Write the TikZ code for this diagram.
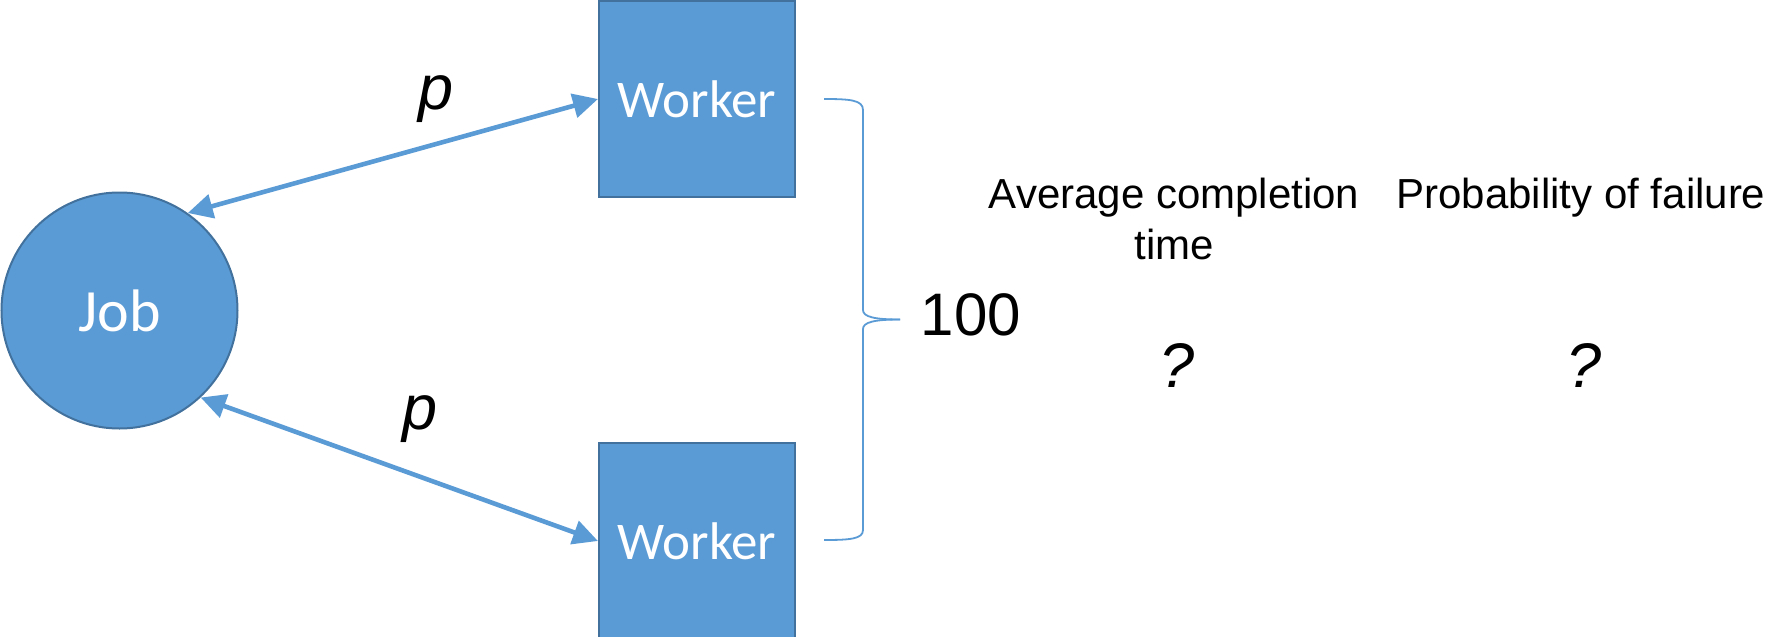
\documentclass[tikz,border=0pt]{standalone}
\usepackage{fontspec}
\setmainfont{Liberation Sans}
\newfontfamily\carlitofont{Carlito}
\usetikzlibrary{arrows.meta}
\definecolor{fillblue}{RGB}{91,155,213}
\definecolor{edgeblue}{RGB}{65,113,156}
\begin{document}
\begin{tikzpicture}[x=1pt,y=-1pt,
  shapebox/.style={draw=edgeblue, line width=2pt, fill=fillblue, text=white,
    font=\carlitofont\fontsize{53}{60}\selectfont, inner sep=0pt},
  arr/.style={draw=fillblue, line width=4.6pt,
    {Triangle[length=25pt,width=24pt]}-{Triangle[length=25pt,width=24pt]}},
  brace/.style={draw=fillblue, line width=1.8pt},
  lbl/.style={inner sep=0pt, text=black, font=\fontsize{63}{70}\selectfont\itshape},
  txt/.style={inner sep=0pt, text=black, font=\fontsize{42}{51}\selectfont},
  big/.style={inner sep=0pt, text=black, font=\fontsize{60}{66}\selectfont}]
\useasboundingbox (0,0) rectangle (1789,637);
\node[shapebox, circle, minimum size=236pt, font=\carlitofont\fontsize{60}{66}\selectfont] (job) at (119.5,310.5) {Job};
\node[shapebox, rectangle, minimum width=196pt, minimum height=196pt] (w1) at (697,99) {Worker};
\node[shapebox, rectangle, minimum width=196pt, minimum height=196pt] (w2) at (697,541) {Worker};
\draw[arr] (job.55) -- (w1.west);
\draw[arr] (job.-47) -- (w2.west);
\node[lbl, anchor=base] (p1) at (436,109) {p};
\node[lbl, anchor=base] (p2) at (420,429) {p};
\draw[brace] (824,99) .. controls (850,99) and (863,100) .. (863,110) -- (863,310)
  .. controls (863,317) and (875,319.5) .. (900,319.5);
\draw[brace] (900,319.5) .. controls (875,319.5) and (863,322) .. (863,329) -- (863,530)
  .. controls (863,539) and (850,540) .. (824,540);
\node[big, anchor=base] (n100) at (971,335) {100};
\node[txt, align=center, anchor=north] (act) at (1174,178) {Average completion\\time};
\node[txt, anchor=base] (pf) at (1581,208) {Probability of failure};
\node[lbl, anchor=base] (q1) at (1177,387) {?};
\node[lbl, anchor=base] (q2) at (1584,387) {?};
\end{tikzpicture}
\end{document}
